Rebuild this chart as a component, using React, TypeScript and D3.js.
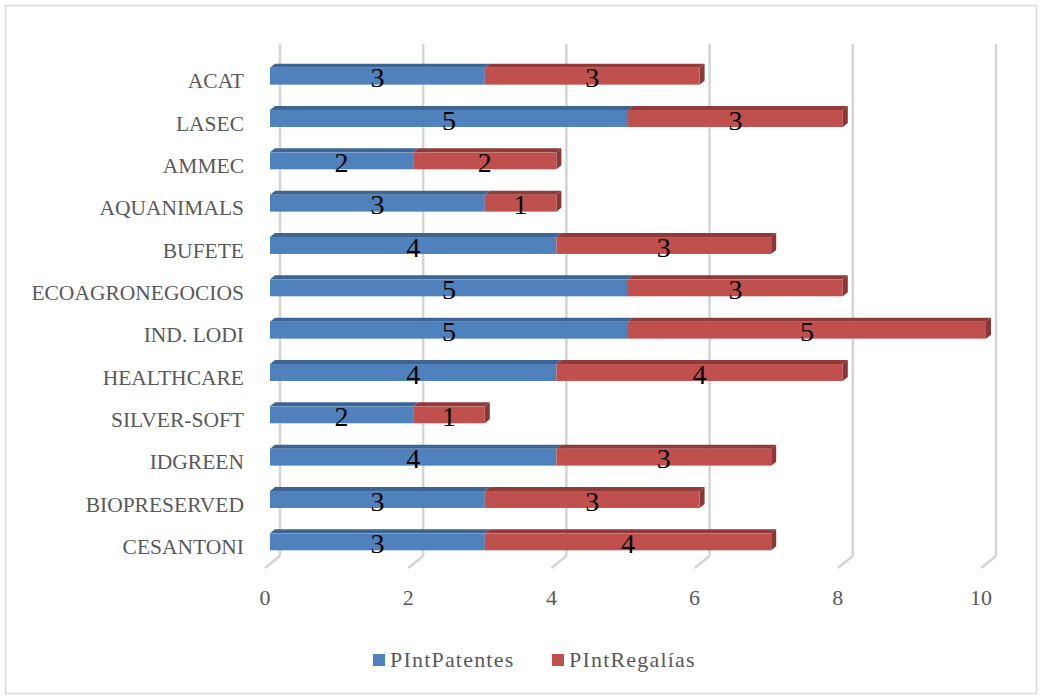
import React from "react";
import * as d3 from "d3";

const categories = [
  "ACAT",
  "LASEC",
  "AMMEC",
  "AQUANIMALS",
  "BUFETE",
  "ECOAGRONEGOCIOS",
  "IND. LODI",
  "HEALTHCARE",
  "SILVER-SOFT",
  "IDGREEN",
  "BIOPRESERVED",
  "CESANTONI",
];
const patentes = [3, 5, 2, 3, 4, 5, 5, 4, 2, 4, 3, 3];
const regalias = [3, 3, 2, 1, 3, 3, 5, 4, 1, 3, 3, 4];
const seriesNames = ["PIntPatentes", "PIntRegalías"];
const xTicks = [0, 2, 4, 6, 8, 10];

const colors = [
  { front: "#4F81BD", top: "#3D6594", side: "#3A5F8C" },
  { front: "#C0504D", top: "#8E3B39", side: "#8A3836" },
];

const W = 1042;
const H = 700;
const DX = 5; // bar depth
const DY = 4;
const FONT = "'Liberation Serif', 'DejaVu Serif', serif";

export default function App() {
  const x = d3.scaleLinear().domain([0, 10]).range([270, 986]);
  const y = d3.scaleBand().domain(categories).range([55, 563]).paddingInner(0.6).paddingOuter(0.3);

  const stackData = categories.map((c, i) => ({ cat: c, a: patentes[i], b: regalias[i] }));
  const stack = d3.stack<any>().keys(["a", "b"])(stackData);
  const mid = (c: string) => y(c)! + y.bandwidth() / 2;

  return (
    <div style={{ position: "absolute", left: 0, top: 0 }}>
      <svg width={W} height={H} style={{ display: "block" }}>
        <rect x={0} y={0} width={W} height={H} fill="#fff" />
        <rect x={5.5} y={5.5} width={1031} height={688} fill="#fff" stroke="#d9d9d9" strokeWidth={1.5} />

        {/* back wall gridlines + floor */}
        {xTicks.map((t) => (
          <g key={t}>
            <line x1={x(t) + 10} x2={x(t) + 10} y1={44} y2={556} stroke="#d4d4d4" strokeWidth={2.5} />
            <line x1={x(t) + 10} x2={x(t) - 5} y1={556} y2={568} stroke="#d4d4d4" strokeWidth={2.5} />
          </g>
        ))}

        {/* bars */}
        {stack.map((layer, si) =>
          layer.map((d, i) => {
            const x0 = x(d[0]);
            const x1 = x(d[1]);
            const yy = y(categories[i])!;
            const h = y.bandwidth();
            const isLast = si === stack.length - 1;
            return (
              <g key={`${si}-${i}`}>
                <polygon
                  points={`${x0},${yy} ${x0 + DX},${yy - DY} ${x1 + DX},${yy - DY} ${x1},${yy}`}
                  fill={colors[si].top}
                />
                {isLast && (
                  <polygon
                    points={`${x1},${yy} ${x1 + DX},${yy - DY} ${x1 + DX},${yy + h - DY} ${x1},${yy + h}`}
                    fill={colors[si].side}
                  />
                )}
                <rect x={x0} y={yy} width={x1 - x0} height={h} fill={colors[si].front} />
              </g>
            );
          })
        )}

        {/* data labels */}
        {stack.map((layer, si) =>
          layer.map((d, i) => (
            <text
              key={`l${si}-${i}`}
              x={(x(d[0]) + x(d[1])) / 2}
              y={mid(categories[i]) + 11}
              textAnchor="middle"
              fontFamily={FONT}
              fontSize={28}
              fill="#000"
            >
              {d[1] - d[0]}
            </text>
          ))
        )}

        {/* category labels */}
        {categories.map((c) => (
          <text
            key={c}
            x={244}
            y={mid(c) + 12}
            textAnchor="end"
            fontFamily={FONT}
            fontSize={21.5}
            fill="#595959"
          >
            {c}
          </text>
        ))}

        {/* x tick labels */}
        {xTicks.map((t) => (
          <text key={`t${t}`} x={x(t) - 5} y={605} textAnchor="middle" fontFamily={FONT} fontSize={22} fill="#595959">
            {t}
          </text>
        ))}

        {/* legend */}
        <rect x={373} y={654} width={12} height={12} fill={colors[0].front} />
        <text x={390} y={667} fontFamily={FONT} fontSize={22} letterSpacing={1.2} fill="#595959">
          {seriesNames[0]}
        </text>
        <rect x={552} y={654} width={12} height={12} fill={colors[1].front} />
        <text x={569} y={667} fontFamily={FONT} fontSize={22} letterSpacing={1.2} fill="#595959">
          {seriesNames[1]}
        </text>
      </svg>
    </div>
  );
}
